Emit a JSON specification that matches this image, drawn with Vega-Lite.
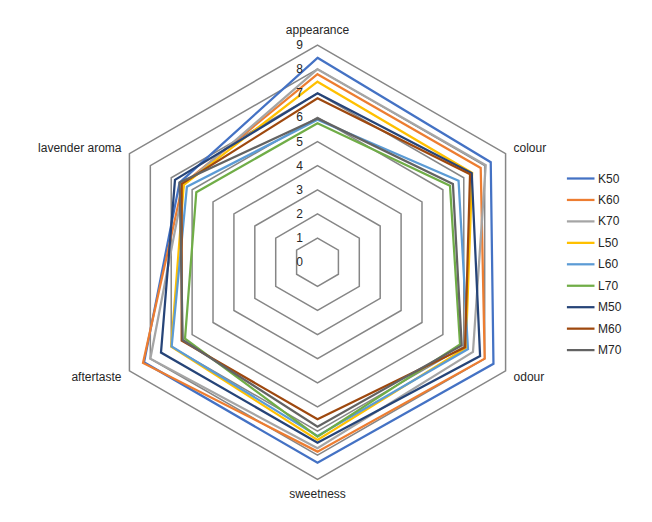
{
  "$schema": "https://vega.github.io/schema/vega-lite/v6.json",
  "width": 652,
  "height": 522,
  "autosize": {"type": "none"},
  "padding": 0,
  "background": "white",
  "config": {"view": {"stroke": null}, "font": "Liberation Sans", "text": {"font": "Liberation Sans"}},
  "datasets": {
    "scores": [
      {"s": "K50", "attr": "appearance", "v": 8.47}, {"s": "K50", "attr": "colour", "v": 8.29}, {"s": "K50", "attr": "odour", "v": 8.42}, {"s": "K50", "attr": "sweetness", "v": 8.31}, {"s": "K50", "attr": "aftertaste", "v": 8.3}, {"s": "K50", "attr": "lavender aroma", "v": 6.6},
      {"s": "K60", "attr": "appearance", "v": 7.79}, {"s": "K60", "attr": "colour", "v": 7.81}, {"s": "K60", "attr": "odour", "v": 8.0}, {"s": "K60", "attr": "sweetness", "v": 7.85}, {"s": "K60", "attr": "aftertaste", "v": 8.35}, {"s": "K60", "attr": "lavender aroma", "v": 6.45},
      {"s": "K70", "attr": "appearance", "v": 8.0}, {"s": "K70", "attr": "colour", "v": 8.05}, {"s": "K70", "attr": "odour", "v": 7.44}, {"s": "K70", "attr": "sweetness", "v": 7.71}, {"s": "K70", "attr": "aftertaste", "v": 8.0}, {"s": "K70", "attr": "lavender aroma", "v": 6.4},
      {"s": "L50", "attr": "appearance", "v": 7.48}, {"s": "L50", "attr": "colour", "v": 7.4}, {"s": "L50", "attr": "odour", "v": 7.1}, {"s": "L50", "attr": "sweetness", "v": 7.37}, {"s": "L50", "attr": "aftertaste", "v": 7.0}, {"s": "L50", "attr": "lavender aroma", "v": 6.4},
      {"s": "L60", "attr": "appearance", "v": 5.9}, {"s": "L60", "attr": "colour", "v": 6.75}, {"s": "L60", "attr": "odour", "v": 7.2}, {"s": "L60", "attr": "sweetness", "v": 7.2}, {"s": "L60", "attr": "aftertaste", "v": 6.98}, {"s": "L60", "attr": "lavender aroma", "v": 6.25},
      {"s": "L70", "attr": "appearance", "v": 5.76}, {"s": "L70", "attr": "colour", "v": 6.34}, {"s": "L70", "attr": "odour", "v": 6.82}, {"s": "L70", "attr": "sweetness", "v": 7.23}, {"s": "L70", "attr": "aftertaste", "v": 6.34}, {"s": "L70", "attr": "lavender aroma", "v": 5.8},
      {"s": "M50", "attr": "appearance", "v": 7.0}, {"s": "M50", "attr": "colour", "v": 7.38}, {"s": "M50", "attr": "odour", "v": 7.78}, {"s": "M50", "attr": "sweetness", "v": 7.48}, {"s": "M50", "attr": "aftertaste", "v": 7.49}, {"s": "M50", "attr": "lavender aroma", "v": 6.82},
      {"s": "M60", "attr": "appearance", "v": 6.79}, {"s": "M60", "attr": "colour", "v": 7.3}, {"s": "M60", "attr": "odour", "v": 7.06}, {"s": "M60", "attr": "sweetness", "v": 6.51}, {"s": "M60", "attr": "aftertaste", "v": 6.5}, {"s": "M60", "attr": "lavender aroma", "v": 6.5},
      {"s": "M70", "attr": "appearance", "v": 5.96}, {"s": "M70", "attr": "colour", "v": 6.48}, {"s": "M70", "attr": "odour", "v": 6.9}, {"s": "M70", "attr": "sweetness", "v": 6.82}, {"s": "M70", "attr": "aftertaste", "v": 6.45}, {"s": "M70", "attr": "lavender aroma", "v": 6.6}
    ],
    "grid": [
      {"level": 1, "k": [0, 1, 2, 3, 4, 5]}, {"level": 2, "k": [0, 1, 2, 3, 4, 5]}, {"level": 3, "k": [0, 1, 2, 3, 4, 5]},
      {"level": 4, "k": [0, 1, 2, 3, 4, 5]}, {"level": 5, "k": [0, 1, 2, 3, 4, 5]}, {"level": 6, "k": [0, 1, 2, 3, 4, 5]},
      {"level": 7, "k": [0, 1, 2, 3, 4, 5]}, {"level": 8, "k": [0, 1, 2, 3, 4, 5]}, {"level": 9, "k": [0, 1, 2, 3, 4, 5]}
    ],
    "ticks": [
      {"level": 0}, {"level": 1}, {"level": 2}, {"level": 3}, {"level": 4},
      {"level": 5}, {"level": 6}, {"level": 7}, {"level": 8}, {"level": 9}
    ],
    "cats": [
      {"attr": "appearance"}, {"attr": "colour"}, {"attr": "odour"},
      {"attr": "sweetness"}, {"attr": "aftertaste"}, {"attr": "lavender aroma"}
    ]
  },
  "encoding": {
    "x": {"field": "x", "type": "quantitative", "scale": {"domain": [-13.158, 13.862], "nice": false, "zero": false}, "axis": null},
    "y": {"field": "y", "type": "quantitative", "scale": {"domain": [-10.767, 10.866], "nice": false, "zero": false}, "axis": null}
  },
  "layer": [
    {
      "data": {"name": "grid"},
      "transform": [
        {"flatten": ["k"]},
        {"calculate": "datum.level * sin(datum.k * PI / 3)", "as": "x"},
        {"calculate": "datum.level * cos(datum.k * PI / 3)", "as": "y"}
      ],
      "mark": {"type": "line", "interpolate": "linear-closed", "stroke": "#868686", "strokeWidth": 1.5},
      "encoding": {
        "detail": {"field": "level", "type": "ordinal"},
        "order": {"field": "k", "type": "quantitative"}
      }
    },
    {
      "data": {"name": "scores"},
      "transform": [
        {"calculate": "indexof(['appearance','colour','odour','sweetness','aftertaste','lavender aroma'], datum.attr)", "as": "k"},
        {"calculate": "datum.v * sin(datum.k * PI / 3)", "as": "x"},
        {"calculate": "datum.v * cos(datum.k * PI / 3)", "as": "y"}
      ],
      "mark": {"type": "line", "interpolate": "linear-closed", "strokeWidth": 2.25},
      "encoding": {
        "color": {
          "field": "s", "type": "nominal",
          "scale": {
            "domain": ["K50", "K60", "K70", "L50", "L60", "L70", "M50", "M60", "M70"],
            "range": ["#4472C4", "#ED7D31", "#A5A5A5", "#FFC000", "#5B9BD5", "#70AD47", "#264478", "#9E480E", "#636363"]
          },
          "legend": {
            "orient": "none", "legendX": 568.7, "legendY": 166.5, "title": null,
            "symbolType": "M-1.273,0H1.273", "symbolSize": 470, "symbolStrokeWidth": 2.25,
            "labelFontSize": 12, "labelFont": "Liberation Sans", "labelColor": "#262626",
            "labelOffset": 5.4, "rowPadding": 3.45, "padding": 0
          }
        },
        "order": {"field": "k", "type": "quantitative"}
      }
    },
    {
      "data": {"name": "ticks"},
      "transform": [
        {"calculate": "0", "as": "x"},
        {"calculate": "datum.level", "as": "y"}
      ],
      "mark": {"type": "text", "align": "right", "baseline": "middle", "dx": -14.5, "fontSize": 12, "color": "#262626"},
      "encoding": {"text": {"field": "level", "type": "quantitative"}}
    },
    {
      "data": {"name": "cats"},
      "transform": [
        {"filter": "datum.attr == 'appearance' || datum.attr == 'sweetness'"},
        {"calculate": "0", "as": "x"},
        {"calculate": "datum.attr == 'appearance' ? 9.62 : -9.62", "as": "y"}
      ],
      "mark": {"type": "text", "align": "center", "baseline": "middle", "fontSize": 12, "color": "#262626"},
      "encoding": {"text": {"field": "attr", "type": "nominal"}}
    },
    {
      "data": {"name": "cats"},
      "transform": [
        {"filter": "datum.attr == 'colour' || datum.attr == 'odour'"},
        {"calculate": "indexof(['appearance','colour','odour','sweetness','aftertaste','lavender aroma'], datum.attr)", "as": "k"},
        {"calculate": "9.5 * sin(datum.k * PI / 3)", "as": "x"},
        {"calculate": "9.5 * cos(datum.k * PI / 3)", "as": "y"}
      ],
      "mark": {"type": "text", "align": "left", "baseline": "middle", "dx": -2.5, "fontSize": 12, "color": "#262626"},
      "encoding": {"text": {"field": "attr", "type": "nominal"}}
    },
    {
      "data": {"name": "cats"},
      "transform": [
        {"filter": "datum.attr == 'aftertaste' || datum.attr == 'lavender aroma'"},
        {"calculate": "indexof(['appearance','colour','odour','sweetness','aftertaste','lavender aroma'], datum.attr)", "as": "k"},
        {"calculate": "9.5 * sin(datum.k * PI / 3)", "as": "x"},
        {"calculate": "9.5 * cos(datum.k * PI / 3)", "as": "y"}
      ],
      "mark": {"type": "text", "align": "right", "baseline": "middle", "dx": 2.5, "fontSize": 12, "color": "#262626"},
      "encoding": {"text": {"field": "attr", "type": "nominal"}}
    }
  ]
}
